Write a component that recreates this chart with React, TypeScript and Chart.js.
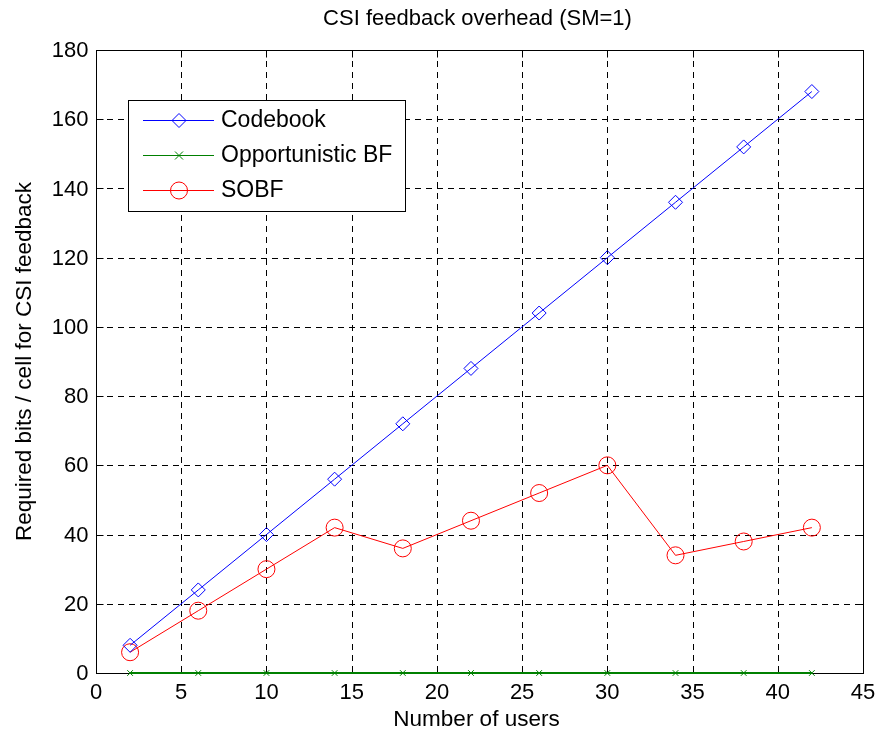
import React, { useEffect, useRef } from "react";
import { Chart, registerables } from "chart.js";

Chart.register(...registerables);

const xUsers = [2, 6, 10, 14, 18, 22, 26, 30, 34, 38, 42];
const codebook = [8, 24, 40, 56, 72, 88, 104, 120, 136, 152, 168];
const opportunisticBF = [0, 0, 0, 0, 0, 0, 0, 0, 0, 0, 0];
const sobf = [6, 18, 30, 42, 36, 44, 52, 60, 34, 38, 42];
const xTicks = [0, 5, 10, 15, 20, 25, 30, 35, 40, 45];
const yTicks = [0, 20, 40, 60, 80, 100, 120, 140, 160, 180];
const titleText = "CSI feedback overhead (SM=1)";
const xLabel = "Number of users";
const yLabel = "Required bits / cell for CSI feedback";
const seriesNames = ["Codebook", "Opportunistic BF", "SOBF"];
const seriesColors = ["#0000ff", "#008000", "#ff0000"];
const seriesStyles = ["rectRot", "crossRot", "circle"];
const seriesRadii = [7, 4, 8.5];
const seriesWidths = [1, 2, 1];

const FONT = "Liberation Sans, Arial, sans-serif";

function drawMarker(ctx: CanvasRenderingContext2D, style: string, x: number, y: number, r: number, color: string) {
  ctx.save();
  ctx.strokeStyle = color;
  ctx.lineWidth = 1;
  ctx.setLineDash([]);
  ctx.beginPath();
  if (style === "rectRot") {
    ctx.moveTo(x, y - r);
    ctx.lineTo(x + r, y);
    ctx.lineTo(x, y + r);
    ctx.lineTo(x - r, y);
    ctx.closePath();
  } else if (style === "crossRot") {
    ctx.moveTo(x - r, y - r);
    ctx.lineTo(x + r, y + r);
    ctx.moveTo(x + r, y - r);
    ctx.lineTo(x - r, y + r);
  } else {
    ctx.arc(x, y, r, 0, Math.PI * 2);
  }
  ctx.stroke();
  ctx.restore();
}

const framePlugin = {
  id: "matlabFrame",
  beforeDatasetsDraw(chart: any) {
    const { ctx, chartArea: a, scales } = chart;
    const xs = scales.x;
    const ys = scales.y;
    ctx.save();
    ctx.strokeStyle = "#000";
    ctx.lineWidth = 1;
    ctx.setLineDash([6, 5]);
    xTicks.forEach((t) => {
      const px = Math.round(xs.getPixelForValue(t)) + 0.5;
      ctx.beginPath();
      ctx.moveTo(px, a.top);
      ctx.lineTo(px, a.bottom);
      ctx.stroke();
    });
    yTicks.forEach((t) => {
      const py = Math.round(ys.getPixelForValue(t)) + 0.5;
      ctx.beginPath();
      ctx.moveTo(a.left, py);
      ctx.lineTo(a.right, py);
      ctx.stroke();
    });
    ctx.setLineDash([]);
    const L = Math.round(a.left) + 0.5;
    const R = Math.round(a.right) + 0.5;
    const T = Math.round(a.top) + 0.5;
    const B = Math.round(a.bottom) + 0.5;
    ctx.strokeRect(L, T, R - L, B - T);
    const tl = 7;
    xTicks.forEach((t) => {
      const px = Math.round(xs.getPixelForValue(t)) + 0.5;
      ctx.beginPath();
      ctx.moveTo(px, B);
      ctx.lineTo(px, B - tl);
      ctx.moveTo(px, T);
      ctx.lineTo(px, T + tl);
      ctx.stroke();
    });
    yTicks.forEach((t) => {
      const py = Math.round(ys.getPixelForValue(t)) + 0.5;
      ctx.beginPath();
      ctx.moveTo(L, py);
      ctx.lineTo(L + tl, py);
      ctx.moveTo(R, py);
      ctx.lineTo(R - tl, py);
      ctx.stroke();
    });
    ctx.restore();
  },
  afterDatasetsDraw(chart: any) {
    const { ctx, chartArea: a, scales } = chart;
    const xs = scales.x;
    const ys = scales.y;
    ctx.save();
    const L = Math.round(a.left) + 0.5;
    const B = Math.round(a.bottom) + 0.5;
    ctx.fillStyle = "#000";
    ctx.font = `22px ${FONT}`;
    ctx.textAlign = "center";
    ctx.textBaseline = "top";
    xTicks.forEach((t) => {
      ctx.fillText(String(t), xs.getPixelForValue(t), B + 8);
    });
    ctx.textAlign = "right";
    ctx.textBaseline = "middle";
    yTicks.forEach((t) => {
      ctx.fillText(String(t), L - 8, ys.getPixelForValue(t) + 1);
    });
    ctx.textAlign = "center";
    ctx.textBaseline = "middle";
    ctx.font = `22px ${FONT}`;
    ctx.fillText(titleText, (a.left + a.right) / 2 - 2, 19);
    ctx.font = `22.5px ${FONT}`;
    ctx.fillText(xLabel, (a.left + a.right) / 2 - 3, 720);
    ctx.save();
    ctx.translate(25, (a.top + a.bottom) / 2);
    ctx.rotate(-Math.PI / 2);
    ctx.fillText(yLabel, 0, 0);
    ctx.restore();
    // legend
    const lx = 128.5, ly = 100.5, lw = 277, lh = 111;
    ctx.fillStyle = "#fff";
    ctx.fillRect(lx, ly, lw, lh);
    ctx.strokeStyle = "#000";
    ctx.lineWidth = 1;
    ctx.strokeRect(lx, ly, lw, lh);
    ctx.font = `23px ${FONT}`;
    ctx.textAlign = "left";
    ctx.textBaseline = "middle";
    seriesNames.forEach((name, i) => {
      const y = 120 + i * 35;
      ctx.strokeStyle = seriesColors[i];
      ctx.lineWidth = 1;
      ctx.beginPath();
      ctx.moveTo(143, y + 0.5);
      ctx.lineTo(214, y + 0.5);
      ctx.stroke();
      drawMarker(ctx, seriesStyles[i], 179, y + 0.5, seriesRadii[i], seriesColors[i]);
      ctx.fillStyle = "#000";
      ctx.fillText(name, 221, y + 1);
    });
    ctx.restore();
  },
};

export default function App() {
  const ref = useRef<HTMLCanvasElement>(null);
  useEffect(() => {
    if (!ref.current) return;
    const series = [codebook, opportunisticBF, sobf];
    const chart = new Chart(ref.current, {
      type: "line",
      data: {
        datasets: series.map((vals, i) => ({
          label: seriesNames[i],
          data: xUsers.map((x, j) => ({ x, y: vals[j] })),
          borderColor: seriesColors[i],
          backgroundColor: "rgba(0,0,0,0)",
          borderWidth: seriesWidths[i],
          pointStyle: seriesStyles[i] as any,
          pointRadius: seriesRadii[i],
          pointBorderColor: seriesColors[i],
          pointBackgroundColor: "rgba(0,0,0,0)",
          pointBorderWidth: 1,
          tension: 0,
          fill: false,
          clip: false as any,
        })),
      },
      options: {
        animation: false,
        responsive: false,
        devicePixelRatio: 1,
        layout: { padding: { left: 96, top: 50, right: 15, bottom: 61 } },
        plugins: { legend: { display: false }, tooltip: { enabled: false }, title: { display: false } },
        scales: {
          x: { type: "linear", min: 0, max: 45, display: false },
          y: { type: "linear", min: 0, max: 180, display: false },
        },
      },
      plugins: [framePlugin],
    });
    return () => chart.destroy();
  }, []);
  return (
    <div style={{ position: "absolute", left: 0, top: 0, width: 878, height: 734, background: "#fff" }}>
      <canvas ref={ref} width={878} height={734} style={{ display: "block" }} />
    </div>
  );
}
